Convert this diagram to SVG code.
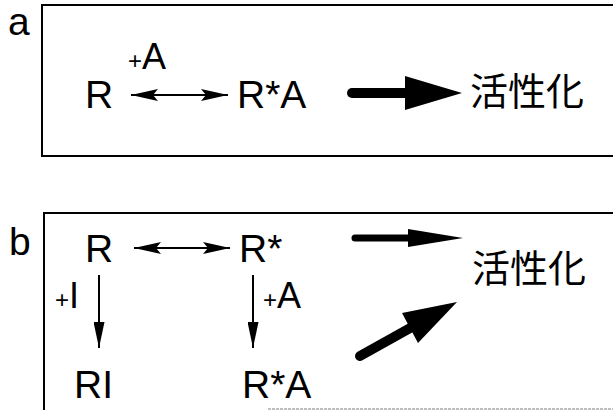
<svg xmlns="http://www.w3.org/2000/svg" width="613" height="410" viewBox="0 0 613 410">
<style>
  .t { font-family: "Liberation Sans", Arial, sans-serif; font-size: 39px; fill: #000; }
  .s { font-size: 24px; }
  .m { font-size: 36px; }
  .cj { font-family: "Noto Sans CJK JP", "Noto Sans CJK SC", sans-serif; font-size: 38px; fill: #000; }
  .frame { fill: none; stroke: #000; stroke-width: 2; }
  .thin { stroke: #000; stroke-width: 2; fill: none; }
  .thick { stroke: #000; fill: none; stroke-linecap: round; }
</style>
<defs>
  <marker id="hs" viewBox="0 0 27 12" refX="27" refY="6" markerWidth="27" markerHeight="12" markerUnits="userSpaceOnUse" orient="auto-start-reverse">
    <path d="M0,0 L27,6 L0,12 L5,6 Z" fill="#000"/>
  </marker>
  <marker id="hv" viewBox="0 0 26 11" refX="26" refY="5.5" markerWidth="26" markerHeight="11" markerUnits="userSpaceOnUse" orient="auto">
    <path d="M0,0 L26,5.5 L0,11 Z" fill="#000"/>
  </marker>
</defs>

<g id="panel-a">
  <text class="t" x="8" y="35" font-size="41">a</text>
  <path class="frame" d="M615,5 H42 V156 H615"/>
</g>
<g id="panel-b">
  <text class="t" x="9" y="255" font-size="41">b</text>
  <path class="frame" d="M615,213 H44 V412"/>
  <line x1="268" y1="409" x2="613" y2="409" stroke="#aaa" stroke-width="1.5" stroke-dasharray="3,1"/>
</g>

<g id="a-R"><text class="t" x="85" y="108">R</text></g>
<g id="a-label"><text class="t" x="128" y="69"><tspan class="s">+</tspan><tspan class="m">A</tspan></text></g>
<g id="a-RA"><text class="t" x="237" y="108">R*A</text></g>
<g id="a-act"><text class="cj" x="470" y="105">活性化</text></g>

<g id="b-R"><text class="t" x="85" y="262">R</text></g>
<g id="b-Rs"><text class="t" x="239" y="262">R*</text></g>
<g id="b-RI"><text class="t" x="74" y="398">RI</text></g>
<g id="b-RA"><text class="t" x="242" y="398">R*A</text></g>
<g id="b-I"><text class="t" x="55" y="308"><tspan class="s">+</tspan><tspan class="m">I</tspan></text></g>
<g id="b-A"><text class="t" x="263" y="308"><tspan class="s">+</tspan><tspan class="m">A</tspan></text></g>
<g id="b-act"><text class="cj" x="472" y="282" font-size="39">活性化</text></g>

<g id="connectors">
  <line class="thin" x1="131" y1="95" x2="228" y2="95" marker-start="url(#hs)" marker-end="url(#hs)"/>
  <line class="thick" x1="352" y1="93" x2="410" y2="93" stroke-width="10"/>
  <path d="M405,76 L462,93 L405,110 Z" fill="#000"/>

  <line class="thin" x1="134" y1="248" x2="230" y2="248" marker-start="url(#hs)" marker-end="url(#hs)"/>
  <line class="thin" x1="99" y1="275" x2="99" y2="348" marker-end="url(#hv)"/>
  <line class="thin" x1="253" y1="275" x2="253" y2="348" marker-end="url(#hv)"/>

  <line class="thick" x1="355" y1="238" x2="412" y2="238" stroke-width="7"/>
  <path d="M408,229 L463,238 L408,247 Z" fill="#000"/>

  <line class="thick" x1="360" y1="356" x2="412" y2="327" stroke-width="10"/>
  <path d="M402,313 L457,302 L418,343 Z" fill="#000"/>
</g>
</svg>
